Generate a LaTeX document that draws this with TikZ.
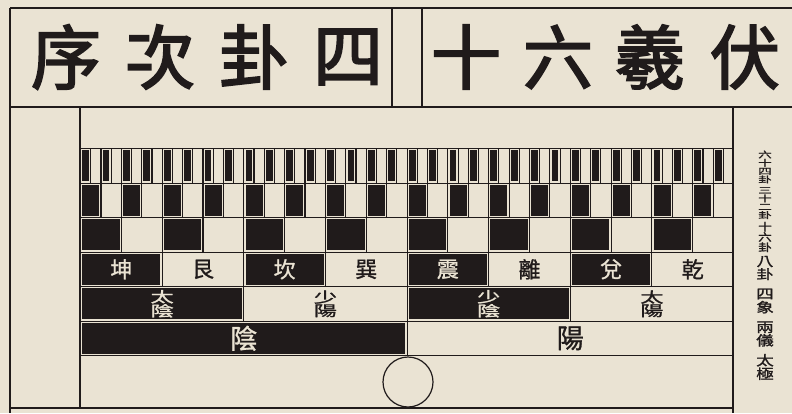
\documentclass[tikz,border=0pt]{standalone}
\usepackage{fontspec}
\newfontfamily\cjk[FakeBold=1]{Noto Sans CJK TC}
\newfontfamily\cjkbold[FakeBold=2.5]{Noto Sans CJK TC}
\newfontfamily\cjkwide[FakeStretch=1.6,FakeBold=1.5]{Noto Sans CJK TC}
\newfontfamily\cjkhalf[FakeStretch=1.3,FakeBold=1.5]{Noto Sans CJK TC}
\newcommand\twochars[3][0pt]{\vbox{\offinterlineskip\hbox{#2}\kern#1\hbox{#3}}}
\usetikzlibrary{positioning}
\definecolor{paper}{RGB}{234,227,211}
\definecolor{ink}{RGB}{32,27,27}

\begin{document}
\begin{tikzpicture}[x=1pt,y=-1pt,line join=miter,
    cell/.style={draw=ink,line width=1.1pt,inner sep=0pt,anchor=north west,text=ink,font=\cjk},
    yincell/.style={cell,text=paper,path picture={\fill[ink]
        ([shift={(1.7pt,1.7pt)}]path picture bounding box.south west) rectangle
        ([shift={(-1.7pt,-1.7pt)}]path picture bounding box.north east);}},
    parity/.code={\ifodd#1\relax\pgfkeysalso{yincell}\else\pgfkeysalso{cell}\fi},
    frame/.style={draw=ink,line width=1.6pt},
    titlechar/.style={inner sep=0pt,text=ink,font=\cjkbold\fontsize{70}{70}\selectfont},
    sidelab/.style={inner sep=0pt,text=ink,align=center}]
  % paper
  \fill[paper] (0,0) rectangle (792,413);
  \useasboundingbox (0,0) rectangle (792,413);

  % frame and title band
  \draw[frame,line width=2.6pt] (10,8) -- (792,8);
  \draw[frame,line width=2.6pt] (10,8) -- (10,413);
  \draw[frame] (10,107) -- (792,107);
  \draw[frame] (392,8) -- (392,107);
  \draw[frame] (422,8) -- (422,107);
  \draw[frame] (80,107) -- (80,408);
  \draw[frame] (733,107) -- (733,413);
  \draw[frame] (10,408) -- (733,408);

  % title, printed right to left
  \node[titlechar] (t1) at (66,57)  {序};
  \node[titlechar] (t2) at (160,57) {次};
  \node[titlechar] (t3) at (254,57) {卦};
  \node[titlechar] (t4) at (348,57) {四};
  \node[titlechar] (t5) at (466,57) {十};
  \node[titlechar] (t6) at (558,57) {六};
  \node[titlechar] (t7) at (650,57) {羲};
  \node[titlechar] (t8) at (745,57) {伏};

  % 64, 32, 16
  \foreach \n/\top in {64/148,32/182.5,16/217}{
    \pgfmathsetmacro\w{653/\n}
    \foreach \i in {1,...,\n}
      \node[parity=\i,minimum width=\w pt,minimum height=34.5pt] (r\n-\i) at ({80+(\i-1)*\w},\top) {};
  }

  % eight trigrams
  \foreach \lab [count=\i] in {坤,艮,坎,巽,震,離,兌,乾}
    \node[parity=\i,minimum width=81.625pt,minimum height=34.5pt,
          font=\cjk\fontsize{22}{22}\selectfont] (r8-\i) at ({80+(\i-1)*81.625},251.5) {\lab};

  % four images
  \foreach \up/\dn [count=\i] in {太/陰,少/陽,少/陰,太/陽}
    \node[parity=\i,minimum width=163.25pt,minimum height=34.5pt,
          font=\cjkwide\fontsize{14.5}{14.5}\selectfont] (r4-\i) at ({80+(\i-1)*163.25},286) {\twochars[0.6pt]{\up}{\dn}};

  % two modes
  \node[parity=1,minimum width=326.5pt,minimum height=34.5pt,
        font=\cjk\fontsize{27}{27}\selectfont] (r2-1) at (80,320.5) {陰};
  \node[parity=2,minimum width=326.5pt,minimum height=34.5pt,
        font=\cjk\fontsize{27}{27}\selectfont] (r2-2) at (406.5,320.5) {陽};

  % supreme ultimate
  \node[draw=ink,line width=1.2pt,circle,minimum size=50pt,inner sep=0pt] (taiji) at (408,382) {};

  % side column
  \node[sidelab,font=\cjkwide\fontsize{8.5}{8.3}\selectfont] (s64) at (765,167) {六\\十\\四\\卦};
  \node[sidelab,font=\cjkwide\fontsize{8.5}{8.3}\selectfont] (s32) at (765,203) {三\\十\\二\\卦};
  \node[sidelab,font=\cjkhalf\fontsize{10.5}{10.3}\selectfont] (s16) at (765,237) {十\\六\\卦};
  \node[sidelab,font=\cjkhalf\fontsize{13}{13}\selectfont] (s8) at (765,268) {八\\卦};
  \node[sidelab,font=\cjkhalf\fontsize{13.5}{13.5}\selectfont] (s4) at (765,301) {四\\象};
  \node[sidelab,font=\cjkhalf\fontsize{13.5}{13.5}\selectfont] (s2) at (765,334) {兩\\儀};
  \node[sidelab,font=\cjkhalf\fontsize{13.5}{13.5}\selectfont] (s1) at (765,367) {太\\極};
\end{tikzpicture}
\end{document}
